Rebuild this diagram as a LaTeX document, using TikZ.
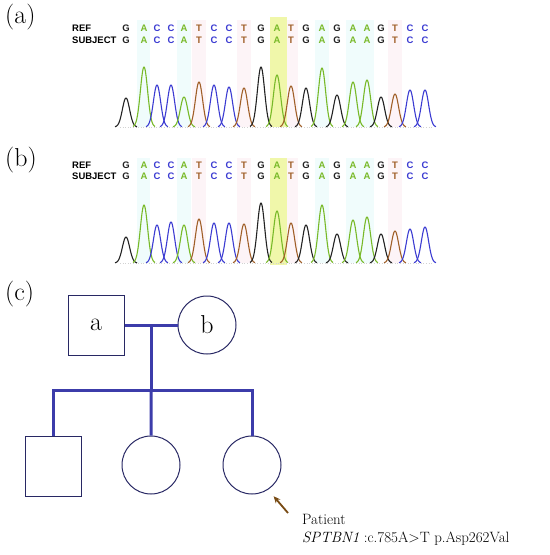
\documentclass[tikz,border=0pt]{standalone}
\usepackage{fontspec}
\newfontfamily\seqfont{Liberation Sans}
\usetikzlibrary{arrows.meta,positioning,calc}
\definecolor{baseG}{RGB}{35,35,35}
\definecolor{baseA}{RGB}{120,185,40}
\definecolor{baseC}{RGB}{60,60,210}
\definecolor{baseT}{RGB}{160,95,40}
\definecolor{colA}{RGB}{240,252,252}
\definecolor{colT}{RGB}{253,244,247}
\definecolor{colG}{RGB}{255,255,255}
\definecolor{colC}{RGB}{255,255,255}
\definecolor{hiY}{RGB}{240,247,170}
\definecolor{pedLine}{RGB}{60,60,170}
\definecolor{pedEdge}{RGB}{40,40,100}
\definecolor{arrBrown}{RGB}{120,75,20}
% base / x position / peak height
\newcommand{\tracea}{G/126/29,A/144/60,C/157/42,C/171/42,A/184/30,T/199/45,C/214/42,
  C/229/40,T/244/39,G/261/60,A/277/52,T/291/41,G/306/39,A/322/59,G/337/32,A/353/45,
  A/367/47,G/381/30,T/395/33,C/410/37,C/425/37}
\newcommand{\traceb}{G/126/26,A/144/58,C/157/38,C/171/41,A/184/38,T/199/44,C/214/40,
  C/229/40,T/244/39,G/261/60,A/277/52,T/291/40,G/306/38,A/322/58,G/337/29,A/353/43,
  A/367/46,G/381/29,T/395/32,C/410/34,C/425/36}

\begin{document}
\begin{tikzpicture}[x=1bp,y=-1bp,
  panel/.style={font=\fontsize{26}{30}\selectfont,anchor=west,inner sep=0pt},
  rowlab/.style={font=\seqfont\bfseries\fontsize{9.5}{10}\selectfont,anchor=west,inner sep=0pt},
  base/.style={font=\seqfont\bfseries\fontsize{9.5}{10}\selectfont,inner sep=0pt},
  trace/.style={line width=1.1bp,line join=round},
  male/.style={draw=pedEdge,line width=1bp,minimum width=56bp,minimum height=60bp,inner sep=0pt,font=\fontsize{26}{30}\selectfont},
  female/.style={draw=pedEdge,line width=1bp,circle,minimum size=58bp,inner sep=0pt,font=\fontsize{26}{30}\selectfont},
  link/.style={draw=pedLine,line width=3bp}]
  \useasboundingbox (0,0) rectangle (550,555);

  % panel a
  \node[panel] (la) at (5,17) {(a)};
  \node[rowlab] (refa) at (72,28) {REF};
  \node[rowlab] (suba) at (72,40) {SUBJECT};
  \foreach \b/\p/\h in \tracea {
    \fill[col\b] (\p-7,20) rectangle (\p+7,127);
  }
  \fill[hiY] (270,17) rectangle (287,127);
  \draw[gray!35,dotted,line width=0.6bp] (120,127) -- (432,127);
  \foreach \b/\p/\h in \tracea {
    \node[base,text=base\b] at (\p,28) {\b};
    \node[base,text=base\b] at (\p,40) {\b};
    \draw[trace,base\b] plot[domain=-11:11,samples=41,smooth,variable=\t]
      ({\p+\t},{127-\h*exp(-(\t*\t)/26)});
  }

  % panel b
  \node[panel] (lb) at (5,160) {(b)};
  \node[rowlab] (refb) at (72,165) {REF};
  \node[rowlab] (subb) at (72,176) {SUBJECT};
  \foreach \b/\p/\h in \traceb {
    \fill[col\b] (\p-7,158) rectangle (\p+7,263);
  }
  \fill[hiY] (270,158) rectangle (287,265);
  \draw[gray!35,dotted,line width=0.6bp] (120,263) -- (432,263);
  \foreach \b/\p/\h in \traceb {
    \node[base,text=base\b] at (\p,165) {\b};
    \node[base,text=base\b] at (\p,176) {\b};
    \draw[trace,base\b] plot[domain=-11:11,samples=41,smooth,variable=\t]
      ({\p+\t},{263-\h*exp(-(\t*\t)/26)});
  }

  % panel c
  \node[panel] (lc) at (5,294) {(c)};
  \node[male] (fa) at (96,325) {a};
  \node[female] (mo) at (207,325) {b};
  \node[male] (c1) at (53,466) {};
  \node[female] (c2) at (151,465) {};
  \node[female] (c3) at (252,465) {};
  \coordinate (m) at ($(fa.east)!0.5!(mo.west)$);
  \coordinate (s) at ($(m)+(0,65)$);
  \draw[link] (fa.east) -- (mo.west);
  \draw[link] (m) -- (s);
  \draw[link] (c1.north) |- (s) -| (c3.north);
  \draw[link] (s) -- (c2.north);

  \node[font=\fontsize{15}{18}\selectfont,align=left,anchor=north west,inner sep=0pt] (pt) at (302,514)
    {Patient\\\textit{SPTBN1} :c.785A>T p.Asp262Val};
  \coordinate (ar) at (288,513);
  \draw[arrBrown,line width=1.8bp,-{Stealth[length=7bp,width=6bp]},shorten >=8.5bp] (ar) -- (c3.-57);
\end{tikzpicture}
\end{document}
